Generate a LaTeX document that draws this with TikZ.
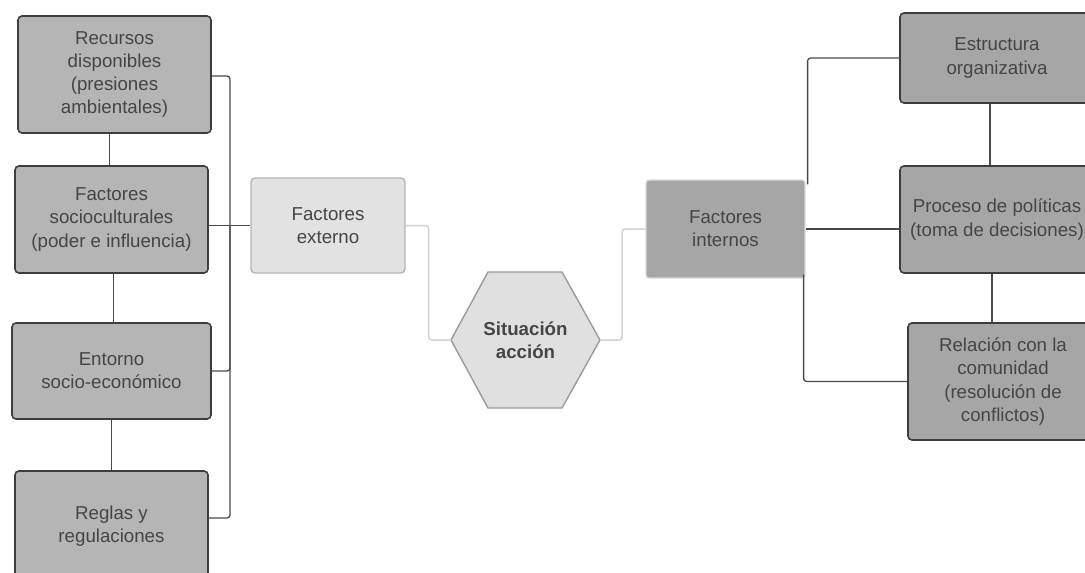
\documentclass[tikz,border=0pt]{standalone}
\usepackage{fontspec}
\setmainfont{Liberation Sans}
\usetikzlibrary{calc}

\definecolor{txt}{HTML}{454545}
\definecolor{boxline}{HTML}{3D3D3D}
\definecolor{lfill}{HTML}{B5B5B5}
\definecolor{rfill}{HTML}{A6A6A6}
\definecolor{extfill}{HTML}{E2E2E2}
\definecolor{extline}{HTML}{B3B3B3}
\definecolor{hexfill}{HTML}{E0E0E0}
\definecolor{hexline}{HTML}{9A9A9A}
\definecolor{darkconn}{HTML}{4A4A4A}
\definecolor{lightconn}{HTML}{D2D2D2}

\begin{document}
\begin{tikzpicture}[x=1pt,y=-1pt,
  label font/.style={font=\fontsize{18.7}{23.3}\selectfont},
  basebox/.style={label font, text=txt, align=center, inner sep=0pt,
                  rounded corners=4, line width=1.6},
  leftbox/.style={basebox, draw=boxline, fill=lfill},
  rightbox/.style={basebox, draw=boxline, fill=rfill},
  extbox/.style={basebox, draw=extline, fill=extfill, line width=1.4},
  intbox/.style={basebox, draw=white!85!black, fill=rfill, rounded corners=3, line width=1.2},
  darklink/.style={draw=darkconn, line width=1.3, rounded corners=3},
  lightlink/.style={draw=lightconn, line width=1.5, rounded corners=3}]

\useasboundingbox (0,0) rectangle (1085,573);
\fill[white] (0,0) rectangle (1085,573);
\clip (0,0) rectangle (1085,573);

% external factors (left column)
\node[leftbox, minimum width=193, minimum height=117] (rec) at (114.5,74.5)
  {Recursos\\disponibles\\(presiones\\ambientales)};
\node[leftbox, minimum width=193, minimum height=107] (soc) at (111.5,219.5)
  {Factores\\socioculturales\\(poder e influencia)};
\node[leftbox, minimum width=199, minimum height=96] (ent) at (111.5,371)
  {Entorno\\socio-económico};
\node[leftbox, minimum width=193, minimum height=110] (reg) at (111.5,526)
  {Reglas y\\regulaciones};

% central elements
\node[extbox, minimum width=154, minimum height=95] (ext) at (328,225.5)
  {Factores\\externo};
\fill[hexfill, draw=hexline, line width=1.4, line join=round]
  (451,340) -- (488,272) -- (562,272) -- (600,340) -- (562,408) -- (488,408) -- cycle;
\node[minimum width=149, minimum height=136, inner sep=0pt, text=txt, align=center,
      font=\fontsize{18.7}{23.3}\selectfont\bfseries] (hex) at (525.5,340)
  {Situación\\acción};
\node[intbox, minimum width=159, minimum height=98] (int) at (725.5,229)
  {Factores\\internos};

% internal factors (right column)
\node[rightbox, minimum width=194, minimum height=90] (est) at (997,58)
  {Estructura\\organizativa};
\node[rightbox, minimum width=194, minimum height=107] (pro) at (997,219.5)
  {Proceso de políticas\\(toma de decisiones)};
\node[rightbox, minimum width=190, minimum height=117] (rel) at (1003,381.5)
  {Relación con la\\comunidad\\(resolución de\\conflictos)};

% left column chain
\draw[darklink] ([xshift=-5]rec.south) -- ([xshift=-5]rec.south |- soc.north);
\draw[darklink] ([xshift=2]soc.south) -- ([xshift=2]soc.south |- ent.north);
\draw[darklink] (ent.south) -- (ent.south |- reg.north);

% left bus into "Factores externo"
\coordinate (bus) at (230,225.5);
\draw[darklink] ([yshift=-1.5]rec.east) -| (bus);
\draw[darklink] (ent.east) -| (bus);
\draw[darklink] ([yshift=8]reg.east) -| (bus);
\draw[darklink] (soc.east |- ext.west) -- (ext.west);

% links through the centre
\draw[lightlink] (ext.east) -- ++(23,0) |- (hex.west);
\draw[lightlink] (hex.east) -- ++(22,0) |- (int.west);

% right column links
\draw[darklink] ([shift={(2,5)}]int.north east) |- (est.west);
\draw[darklink] (int.east) -- (int.east -| pro.west);
\draw[darklink] ([shift={(-2,-4)}]int.south east) |- (rel.west);
\draw[darklink] ([xshift=-7]est.south) -- ([xshift=-7]est.south |- pro.north);
\draw[darklink] ([xshift=-5]pro.south) -- ([xshift=-5]pro.south |- rel.north);

\end{tikzpicture}
\end{document}
